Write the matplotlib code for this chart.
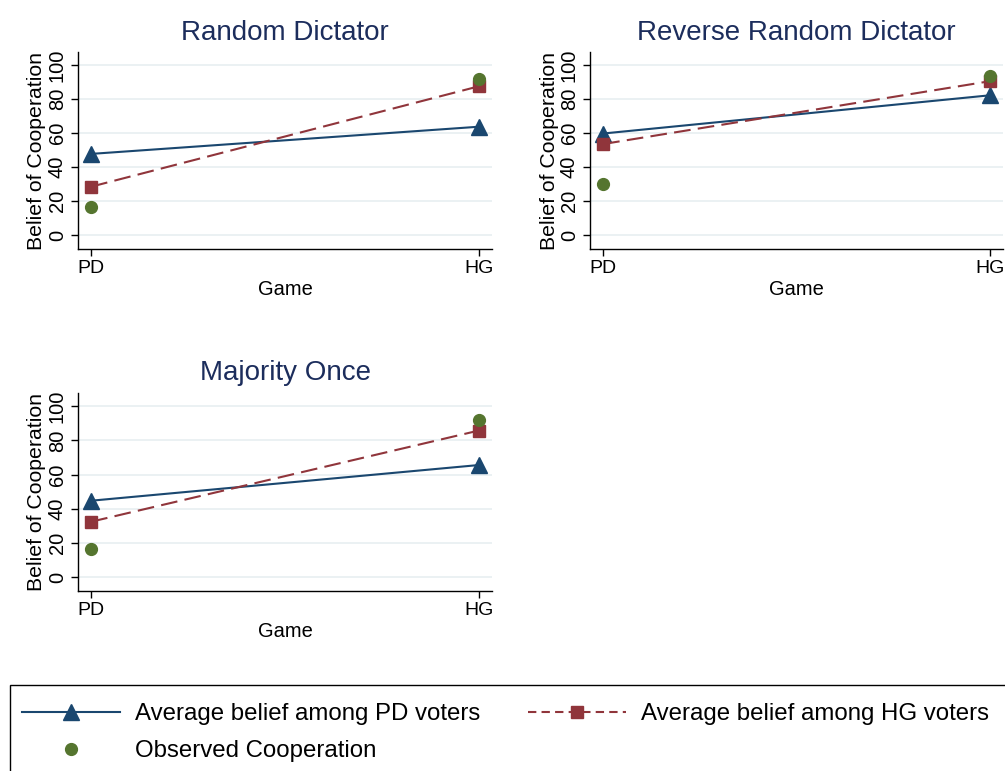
import matplotlib
matplotlib.use("Agg")
import matplotlib.pyplot as plt
from matplotlib.lines import Line2D
from matplotlib.patches import Rectangle

plt.rcParams['font.family'] = ['Liberation Sans', 'DejaVu Sans']

games = ["PD", "HG"]
panels = ["Random Dictator", "Reverse Random Dictator", "Majority Once"]
pd_voters = [[47.8, 63.8], [59.8, 82.3], [44.7, 65.6]]
hg_voters = [[28.5, 87.6], [53.6, 90.6], [32.4, 85.8]]
observed = [[16.4, 92.0], [30.0, 93.4], [16.4, 91.8]]

NAVY = "#1a476f"
MAROON = "#90353b"
GREEN = "#55752f"
TITLE = "#1c2d5c"
GRID = "#e8eff1"

W, H = 1005, 771
fig = plt.figure(figsize=(W / 100, H / 100), dpi=100)

def fx(px):
    return px / W

def fy(py):
    return 1 - py / H

boxes = [
    (78, 52, 492, 249),
    (590, 52, 1003, 249),
    (78, 393, 492, 591),
]

x = [0, 1]
for i, (l, t, r, b) in enumerate(boxes):
    ax = fig.add_axes([fx(l), fy(b), fx(r) - fx(l), fy(t) - fy(b)])
    ax.plot(x, pd_voters[i], color=NAVY, lw=1.5, marker="^", ms=11, zorder=3)
    ax.plot(x, hg_voters[i], color=MAROON, lw=1.5, ls=(0, (8, 3.5)), marker="s",
            ms=9, zorder=3)
    ax.plot(x, observed[i], color=GREEN, lw=0, marker="o", ms=8.5, zorder=4)
    ax.set_xlim(-0.034, 1.034)
    ax.set_ylim(-8.2, 107.8)
    ax.set_yticks([0, 20, 40, 60, 80, 100])
    ax.set_xticks(x)
    ax.set_xticklabels(games, fontsize=14)
    for lab in ax.get_yticklabels():
        lab.set_rotation(90)
        lab.set_va("center")
        lab.set_fontsize(14.5)
    ax.tick_params(axis="both", direction="out", length=5, width=1, color="black", pad=3)
    ax.grid(axis="y", color=GRID, lw=1.2)
    ax.set_axisbelow(True)
    for s in ["top", "right"]:
        ax.spines[s].set_visible(False)
    for s in ["left", "bottom"]:
        ax.spines[s].set_color("black")
        ax.spines[s].set_linewidth(1)
    ax.set_ylabel("Belief of Cooperation", fontsize=15.3, labelpad=1)
    ax.set_xlabel("Game", fontsize=14.5, labelpad=2)
    ax.set_title(panels[i], fontsize=20, color=TITLE, pad=9)

# legend frame (extends past the figure edge on the right and bottom)
fig.add_artist(Rectangle((fx(10), fy(800)), 1.2, fy(685) - fy(800),
                         transform=fig.transFigure, fill=False,
                         edgecolor="black", lw=1, clip_on=False))

h_pd = Line2D([], [], color=NAVY, lw=1.5, marker="^", ms=11)
h_hg = Line2D([], [], color=MAROON, lw=1.5, ls=(0, (4, 2.5)), marker="s", ms=9)
h_obs = Line2D([], [], color=GREEN, lw=0, marker="o", ms=8.5)
handles = [h_pd, h_obs, h_hg]
labels = ["Average belief among PD voters", "Observed Cooperation",
          "Average belief among HG voters"]
leg = fig.legend(handles, labels, loc="upper left", bbox_to_anchor=(fx(10), fy(691)),
                 ncol=2, fontsize=17.3, frameon=False,
                 handlelength=4.08, handletextpad=0.62, columnspacing=2.0,
                 borderpad=0.5, labelspacing=0.62, borderaxespad=0)

fig.savefig("out.png", dpi=100, facecolor="white")
